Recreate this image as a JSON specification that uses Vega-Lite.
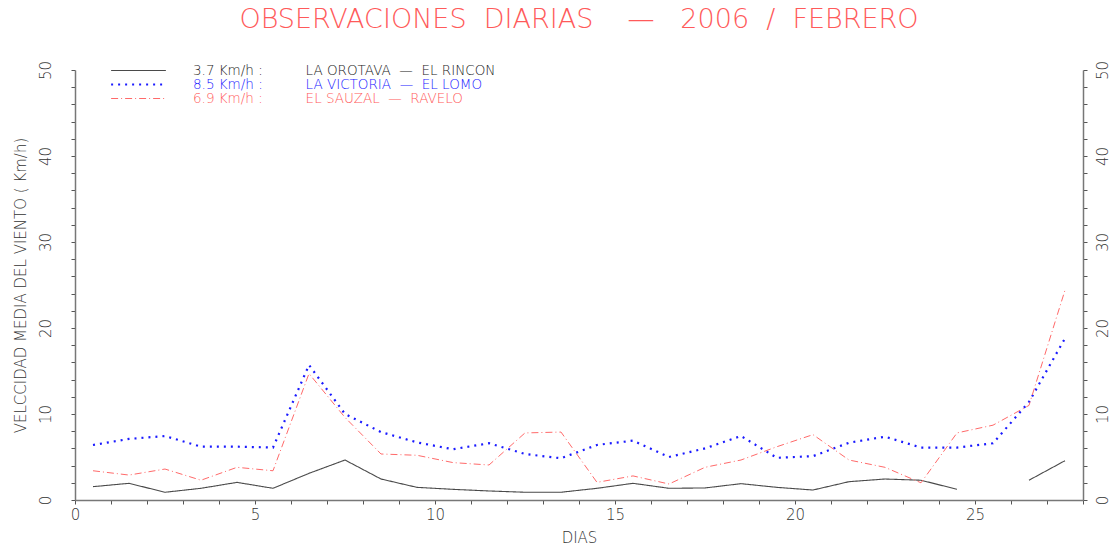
{
  "$schema": "https://vega.github.io/schema/vega-lite/v6.json",
  "width": 1008,
  "height": 430,
  "autosize": "none",
  "padding": {"left": 75, "top": 70, "right": 35, "bottom": 47},
  "background": "white",
  "config": {"view": {"stroke": null}},
  "title": {
    "text": "OBSERVACIONES\u00a0\u00a0DIARIAS\u00a0\u00a0\u00a0\u00a0—\u00a0\u00a0\u00a02006\u00a0\u00a0/\u00a0\u00a0FEBRERO",
    "color": "#ff5a5a",
    "font": "DejaVu Sans",
    "fontWeight": 200,
    "fontSize": 27,
    "anchor": "middle",
    "offset": 26
  },
  "datasets": {
    "wind": [
      {"day": 0.5, "s": "A", "v": 1.55},
      {"day": 1.5, "s": "A", "v": 1.94},
      {"day": 2.5, "s": "A", "v": 0.9},
      {"day": 3.5, "s": "A", "v": 1.36},
      {"day": 4.5, "s": "A", "v": 2.05},
      {"day": 5.5, "s": "A", "v": 1.36},
      {"day": 6.5, "s": "A", "v": 3.1},
      {"day": 7.5, "s": "A", "v": 4.65},
      {"day": 8.5, "s": "A", "v": 2.44},
      {"day": 9.5, "s": "A", "v": 1.47},
      {"day": 10.5, "s": "A", "v": 1.24},
      {"day": 11.5, "s": "A", "v": 1.05},
      {"day": 12.5, "s": "A", "v": 0.9},
      {"day": 13.5, "s": "A", "v": 0.9},
      {"day": 14.5, "s": "A", "v": 1.36},
      {"day": 15.5, "s": "A", "v": 1.94},
      {"day": 16.5, "s": "A", "v": 1.36},
      {"day": 17.5, "s": "A", "v": 1.4},
      {"day": 18.5, "s": "A", "v": 1.9},
      {"day": 19.5, "s": "A", "v": 1.47},
      {"day": 20.5, "s": "A", "v": 1.16},
      {"day": 21.5, "s": "A", "v": 2.13},
      {"day": 22.5, "s": "A", "v": 2.44},
      {"day": 23.5, "s": "A", "v": 2.3},
      {"day": 24.5, "s": "A", "v": 1.24},
      {"day": 25.5, "s": "A", "v": null},
      {"day": 26.5, "s": "A", "v": 2.3},
      {"day": 27.5, "s": "A", "v": 4.57},
      {"day": 0.5, "s": "B", "v": 6.4},
      {"day": 1.5, "s": "B", "v": 7.1},
      {"day": 2.5, "s": "B", "v": 7.44},
      {"day": 3.5, "s": "B", "v": 6.2},
      {"day": 4.5, "s": "B", "v": 6.2},
      {"day": 5.5, "s": "B", "v": 6.1},
      {"day": 6.5, "s": "B", "v": 15.7},
      {"day": 7.5, "s": "B", "v": 10.0},
      {"day": 8.5, "s": "B", "v": 7.9},
      {"day": 9.5, "s": "B", "v": 6.7},
      {"day": 10.5, "s": "B", "v": 5.9},
      {"day": 11.5, "s": "B", "v": 6.6},
      {"day": 12.5, "s": "B", "v": 5.35},
      {"day": 13.5, "s": "B", "v": 4.85},
      {"day": 14.5, "s": "B", "v": 6.4},
      {"day": 15.5, "s": "B", "v": 6.9},
      {"day": 16.5, "s": "B", "v": 5.0},
      {"day": 17.5, "s": "B", "v": 6.0},
      {"day": 18.5, "s": "B", "v": 7.44},
      {"day": 19.5, "s": "B", "v": 4.9},
      {"day": 20.5, "s": "B", "v": 5.1},
      {"day": 21.5, "s": "B", "v": 6.66},
      {"day": 22.5, "s": "B", "v": 7.36},
      {"day": 23.5, "s": "B", "v": 6.1},
      {"day": 24.5, "s": "B", "v": 6.1},
      {"day": 25.5, "s": "B", "v": 6.6},
      {"day": 26.5, "s": "B", "v": 11.4},
      {"day": 27.5, "s": "B", "v": 18.8},
      {"day": 0.5, "s": "C", "v": 3.4},
      {"day": 1.5, "s": "C", "v": 2.9},
      {"day": 2.5, "s": "C", "v": 3.6},
      {"day": 3.5, "s": "C", "v": 2.3},
      {"day": 4.5, "s": "C", "v": 3.8},
      {"day": 5.5, "s": "C", "v": 3.4},
      {"day": 6.5, "s": "C", "v": 14.7},
      {"day": 7.5, "s": "C", "v": 9.6},
      {"day": 8.5, "s": "C", "v": 5.35},
      {"day": 9.5, "s": "C", "v": 5.2},
      {"day": 10.5, "s": "C", "v": 4.35},
      {"day": 11.5, "s": "C", "v": 4.07},
      {"day": 12.5, "s": "C", "v": 7.8},
      {"day": 13.5, "s": "C", "v": 7.9},
      {"day": 14.5, "s": "C", "v": 2.05},
      {"day": 15.5, "s": "C", "v": 2.8},
      {"day": 16.5, "s": "C", "v": 1.86},
      {"day": 17.5, "s": "C", "v": 3.8},
      {"day": 18.5, "s": "C", "v": 4.65},
      {"day": 19.5, "s": "C", "v": 6.2},
      {"day": 20.5, "s": "C", "v": 7.6},
      {"day": 21.5, "s": "C", "v": 4.65},
      {"day": 22.5, "s": "C", "v": 3.8},
      {"day": 23.5, "s": "C", "v": 2.0},
      {"day": 24.5, "s": "C", "v": 7.8},
      {"day": 25.5, "s": "C", "v": 8.7},
      {"day": 26.5, "s": "C", "v": 11.0},
      {"day": 27.5, "s": "C", "v": 24.4}
    ]
  },
  "data": {"name": "wind"},
  "layer": [
    {
      "mark": {"type": "line", "invalid": "break-paths-show-domains", "clip": true},
      "encoding": {
        "x": {
          "field": "day",
          "type": "quantitative",
          "scale": {"domain": [0, 28], "nice": false, "zero": false},
          "axis": {
            "title": "DIAS",
            "titleFont": "DejaVu Sans",
            "titleFontWeight": 200,
            "titleFontSize": 15,
            "titleColor": "#333333",
            "titlePadding": 8,
            "values": [0,1,2,3,4,5,6,7,8,9,10,11,12,13,14,15,16,17,18,19,20,21,22,23,24,25,26,27,28],
            "labelExpr": "datum.value % 5 === 0 && datum.value < 28 ? datum.label : ''",
            "labelFont": "DejaVu Sans",
            "labelFontWeight": 200,
            "labelFontSize": 15,
            "labelColor": "#333333",
            "labelPadding": 3,
            "labelFlush": false,
            "labelOverlap": false,
            "tickSize": 4,
            "tickColor": "#555555",
            "domainColor": "#777777",
            "domainWidth": 1.5,
            "grid": false,
            "encode": {"ticks": {"update": {"y2": {"signal": "datum.value % 5 === 0 ? 7 : 3"}}}}
          }
        },
        "y": {
          "field": "v",
          "type": "quantitative",
          "scale": {"domain": [0, 50], "nice": false},
          "axis": {
            "orient": "left",
            "title": "VELCCIDAD MEDIA DEL VIENTO ( Km/h)",
            "titleFont": "DejaVu Sans",
            "titleFontWeight": 200,
            "titleFontSize": 15,
            "titleColor": "#333333",
            "titlePadding": 10,
            "values": [0,2,4,6,8,10,12,14,16,18,20,22,24,26,28,30,32,34,36,38,40,42,44,46,48,50],
            "labelExpr": "datum.value % 10 === 0 ? datum.label : ''",
            "labelAngle": -90,
            "labelAlign": "center",
            "labelBaseline": "bottom",
            "labelFont": "DejaVu Sans",
            "labelFontWeight": 200,
            "labelFontSize": 15,
            "labelColor": "#333333",
            "labelPadding": 18,
            "labelOverlap": false,
            "labelFlush": false,
            "tickSize": 4,
            "tickColor": "#555555",
            "domainColor": "#777777",
            "domainWidth": 1.5,
            "grid": false,
            "encode": {"ticks": {"update": {"x2": {"signal": "datum.value % 10 === 0 ? -8 : -4"}}}}
          }
        },
        "color": {
          "field": "s",
          "type": "nominal",
          "sort": null,
          "scale": {
            "domain": ["A", "B", "C"],
            "range": ["#4a4a4a", "#1a1aff", "#ff6a6a"]
          },
          "legend": {
            "title": null,
            "orient": "none",
            "legendX": 35,
            "legendY": -6,
            "symbolType": "stroke",
            "symbolSize": 3000,
            "clipHeight": 13,
            "labelExpr": "datum.value === 'A' ? '3.7\u00a0Km/h\u00a0:\u00a0\u00a0\u00a0\u00a0\u00a0\u00a0\u00a0\u00a0\u00a0\u00a0LA\u00a0OROTAVA\u00a0\u00a0—\u00a0\u00a0EL\u00a0RINCON' : datum.value === 'B' ? '8.5\u00a0Km/h\u00a0:\u00a0\u00a0\u00a0\u00a0\u00a0\u00a0\u00a0\u00a0\u00a0\u00a0LA\u00a0VICTORIA\u00a0\u00a0—\u00a0\u00a0EL\u00a0LOMO' : '6.9\u00a0Km/h\u00a0:\u00a0\u00a0\u00a0\u00a0\u00a0\u00a0\u00a0\u00a0\u00a0\u00a0EL\u00a0SAUZAL\u00a0\u00a0—\u00a0\u00a0RAVELO'",
            "labelFont": "DejaVu Sans",
            "labelFontWeight": 200,
            "labelFontSize": 13.5,
            "labelOffset": 26,
            "labelLimit": 700,
            "rowPadding": 0,
            "encode": {"labels": {"update": {"fill": {"signal": "datum.value === 'A' ? '#222222' : datum.value === 'B' ? '#1a1aff' : '#ff5a5a'"}}}}
          }
        },
        "strokeDash": {
          "field": "s",
          "type": "nominal",
          "sort": null,
          "scale": {
            "domain": ["A", "B", "C"],
            "range": [[1, 0], [2, 5], [7, 3, 1, 3]]
          }
        },
        "strokeWidth": {
          "field": "s",
          "type": "nominal",
          "sort": null,
          "scale": {
            "type": "ordinal",
            "domain": ["A", "B", "C"],
            "range": [1.1, 2.2, 1]
          }
        }
      }
    },
    {
      "mark": {"type": "rule", "strokeOpacity": 0},
      "encoding": {
        "y": {
          "datum": 0,
          "type": "quantitative",
          "scale": {"domain": [0, 50], "nice": false},
          "axis": {
            "orient": "right",
            "title": null,
            "values": [0,2,4,6,8,10,12,14,16,18,20,22,24,26,28,30,32,34,36,38,40,42,44,46,48,50],
            "labelExpr": "datum.value % 10 === 0 ? datum.label : ''",
            "labelAngle": -90,
            "labelAlign": "center",
            "labelBaseline": "top",
            "labelFont": "DejaVu Sans",
            "labelFontWeight": 200,
            "labelFontSize": 15,
            "labelColor": "#333333",
            "labelPadding": 8,
            "labelOverlap": false,
            "labelFlush": false,
            "tickSize": 4,
            "tickColor": "#555555",
            "domainColor": "#777777",
            "domainWidth": 1.5,
            "grid": false,
            "encode": {"ticks": {"update": {"x2": {"signal": "datum.value % 10 === 0 ? 8 : 4"}}}}
          }
        }
      }
    }
  ],
  "resolve": {"axis": {"y": "independent"}}
}
